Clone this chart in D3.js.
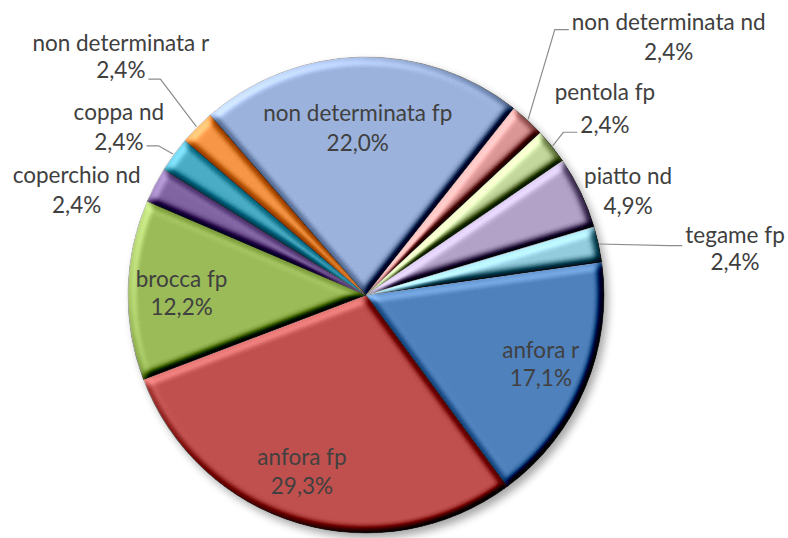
<!DOCTYPE html>
<html>
<head>
<meta charset="utf-8">
<script src="https://cdn.jsdelivr.net/npm/d3@7"></script>
<style>
  html, body { margin: 0; padding: 0; background: #ffffff; }
  svg { display: block; }
  text { font-family: Lato, "Open Sans", sans-serif; fill: #404040; }
</style>
</head>
<body>
<svg id="chart" width="788" height="538"></svg>
<script>
// ---- data ----
const categories = ["anfora r", "anfora fp", "brocca fp", "coperchio nd", "coppa nd",
  "non determinata r", "non determinata fp", "non determinata nd", "pentola fp",
  "piatto nd", "tegame fp"];
const percentages = [17.1, 29.3, 12.2, 2.4, 2.4, 2.4, 22.0, 2.4, 2.4, 4.9, 2.4];
const sliceColors = ["#4F81BD", "#C0504D", "#9BBB59", "#8064A2", "#4BACC6", "#F79646",
  "#9BB2DC", "#DA9694", "#C3D69B", "#B3A2C7", "#93CDDD"];

// ---- label layout (distance factor from centre, angle tweak in degrees, line gap, leader) ----
const labelDist  = [0.79, 0.79, 0.775, 1.294, 1.256, 1.437, 0.70, 1.672, 1.273, 1.185, 1.563];
const labelDAng  = [-1.2, 3.5, -0.5, -7.5, -1.9, -0.6, -1.6, 6.8, 0.7, 3.8, 5.1];
const labelGap   = [28, 29, 28, 30, 30, 27, 30, 30, 33, 30, 27];
// leader: null or [side of label the line reaches ('l'/'r'), which text line (0/1), y offset from that line's centre]
const leaders    = [null, null, null, null, ["r", 1, 4], ["r", 1, 9], null, ["l", 0, 8], ["l", 1, 7], null, ["l", 0, 11]];

const W = 788, H = 538;
const cx = 366, cy = 295, R = 238;
const startDeg = 82;
const fontSize = 22.5;

const svg = d3.select("#chart");
const defs = svg.append("defs");

// bevel lighting filter
const elev = 50;
const f = defs.append("filter").attr("id", "bevel")
  .attr("x", "-5%").attr("y", "-5%").attr("width", "110%").attr("height", "110%")
  .attr("color-interpolation-filters", "sRGB");
f.append("feGaussianBlur").attr("in", "SourceAlpha").attr("stdDeviation", 4).attr("result", "blur");
const dl = f.append("feDiffuseLighting").attr("in", "blur").attr("surfaceScale", 8)
  .attr("diffuseConstant", 1).attr("lighting-color", "#ffffff").attr("result", "light");
dl.append("feDistantLight").attr("azimuth", 225).attr("elevation", elev);
f.append("feComposite").attr("in", "SourceGraphic").attr("in2", "light")
  .attr("operator", "arithmetic").attr("k1", 0).attr("k2", 1).attr("k3", 0.95)
  .attr("k4", -0.95 * Math.sin(elev * Math.PI / 180))
  .attr("result", "lit");
f.append("feComposite").attr("in", "lit").attr("in2", "SourceAlpha").attr("operator", "in");

// shadow filter
const sf = defs.append("filter").attr("id", "shadow")
  .attr("x", "-20%").attr("y", "-20%").attr("width", "140%").attr("height", "140%");
sf.append("feGaussianBlur").attr("in", "SourceAlpha").attr("stdDeviation", 4);

const pie = d3.pie().sort(null).value(d => d)
  .startAngle(startDeg * Math.PI / 180)
  .endAngle(startDeg * Math.PI / 180 + 2 * Math.PI);
const arcs = pie(percentages);
const arc = d3.arc().innerRadius(0).outerRadius(R);

const g = svg.append("g").attr("transform", `translate(${cx},${cy})`);

// shadow
g.append("circle").attr("cx", 4).attr("cy", 5).attr("r", R)
  .attr("fill", "#000").attr("opacity", 0.35).attr("filter", "url(#shadow)");

// slices
g.selectAll("path.slice").data(arcs).join("path")
  .attr("class", "slice")
  .attr("d", arc)
  .attr("fill", (d, i) => sliceColors[i])
  .attr("stroke", "rgba(170,170,170,0.7)")
  .attr("stroke-width", 1)
  .attr("filter", "url(#bevel)");

// labels
const fmt = v => d3.format(".1f")(v).replace(".", ",") + "%";
const polar = (ang, r) => [r * Math.sin(ang), -r * Math.cos(ang)];

arcs.forEach((d, i) => {
  const mid = (d.startAngle + d.endAngle) / 2;
  const [lx, ly] = polar(mid + labelDAng[i] * Math.PI / 180, R * labelDist[i]);
  const gap = labelGap[i];
  const t = g.append("text").attr("text-anchor", "middle").attr("font-size", fontSize);
  const l1 = t.append("tspan").attr("x", lx).attr("y", ly - gap / 2).attr("dy", "0.35em").text(categories[i]);
  const l2 = t.append("tspan").attr("x", lx).attr("y", ly + gap / 2).attr("dy", "0.35em").text(fmt(percentages[i]));
  const ld = leaders[i];
  if (ld) {
    const span = ld[1] === 0 ? l1 : l2;
    const w = span.node().getComputedTextLength();
    const lineY = (ld[1] === 0 ? ly - gap / 2 : ly + gap / 2) + ld[2];
    const ex = ld[0] === "l" ? lx - w / 2 - 3 : lx + w / 2 + 3;
    const elbowX = ld[0] === "l" ? ex - 14 : ex + 12;
    const [sx, sy] = polar(mid, R + 1);
    g.append("polyline")
      .attr("points", [[sx, sy], [elbowX, lineY], [ex, lineY]].map(p => p.join(",")).join(" "))
      .attr("fill", "none").attr("stroke", "#8c8c8c").attr("stroke-width", 1.2);
  }
});
</script>
</body>
</html>
